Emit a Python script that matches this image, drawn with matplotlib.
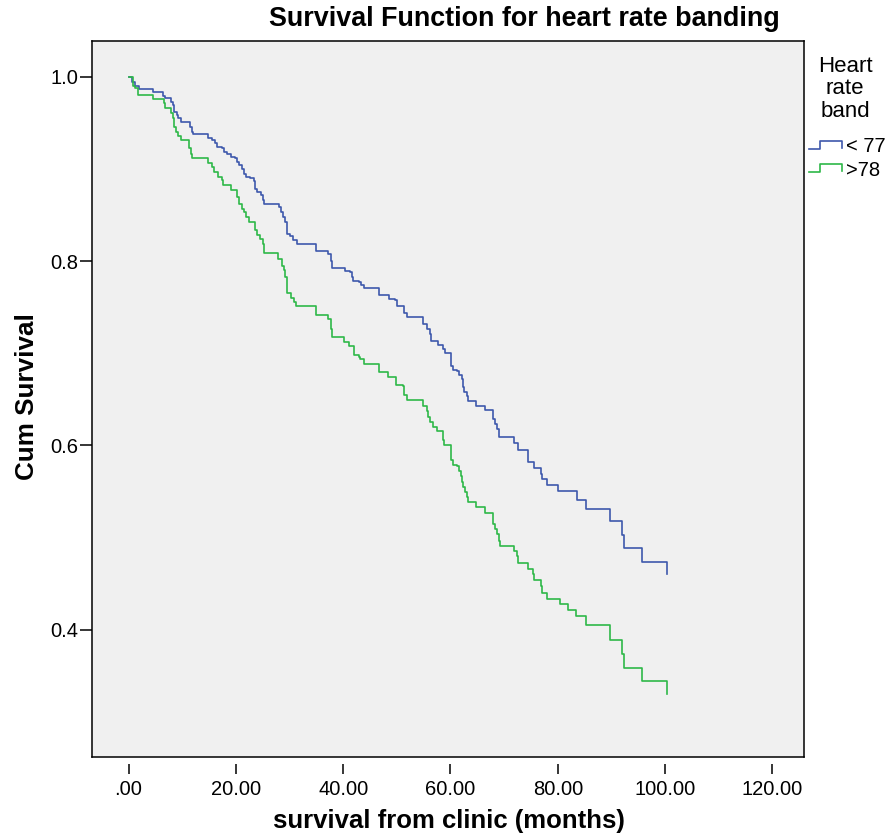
import matplotlib
matplotlib.use("Agg")
import matplotlib.pyplot as plt
from matplotlib.lines import Line2D
from matplotlib.ticker import FuncFormatter

plt.rcParams['font.family'] = ['Liberation Sans', 'DejaVu Sans']

# step times (months) and cum survival after each step
months_lt77 = [0, 0.65, 1.21, 2.01, 4.62, 6.49, 6.80, 7.83, 8.35, 8.54, 8.98,
               9.28, 9.73, 11.46, 11.78, 11.97, 14.87, 15.51, 16.12, 16.55, 17.37,
               17.80, 18.30, 19.05, 19.85, 20.17, 20.65, 21.10, 21.53, 21.90, 22.65,
               23.39, 23.58, 24.01, 24.64, 25.01, 25.26, 28.11, 28.37, 28.74, 29.17,
               29.49, 30.10, 30.72, 31.31, 34.95, 37.24, 37.69, 37.88, 40.35, 41.29,
               41.60, 41.90, 43.02, 43.28, 43.90, 46.75, 48.61, 49.67, 49.99, 51.35,
               51.86, 54.84, 55.58, 56.20, 56.33, 57.74, 58.68, 58.99, 60.11, 60.43,
               61.29, 61.66, 62.11, 62.29, 62.54, 63.04, 63.34, 64.77, 66.45, 67.88,
               68.31, 68.74, 69.11, 71.86, 72.51, 74.52, 75.58, 76.83, 77.02, 78.06,
               80.00, 83.65, 85.22, 89.75, 91.99, 92.41, 95.66, 100.32]
surv_lt77 = [1.0, 0.9942, 0.9902, 0.9866, 0.9837, 0.9793, 0.9765, 0.9728, 0.9692, 0.9620, 0.9584,
             0.9548, 0.9511, 0.9457, 0.9402, 0.9374, 0.9337, 0.9312, 0.9276, 0.9239, 0.9222,
             0.9185, 0.9167, 0.9130, 0.9120, 0.9076, 0.9040, 0.9004, 0.8950, 0.8913, 0.8896,
             0.8866, 0.8787, 0.8750, 0.8714, 0.8660, 0.8624, 0.8587, 0.8533, 0.8478, 0.8424,
             0.8298, 0.8268, 0.8230, 0.8182, 0.8109, 0.8073, 0.8000, 0.7928, 0.7891, 0.7880,
             0.7826, 0.7783, 0.7772, 0.7736, 0.7707, 0.7627, 0.7591, 0.7573, 0.7511, 0.7439,
             0.7391, 0.7320, 0.7258, 0.7211, 0.7130, 0.7084, 0.7048, 0.7000, 0.6866, 0.6820,
             0.6812, 0.6768, 0.6722, 0.6630, 0.6576, 0.6540, 0.6486, 0.6432, 0.6385, 0.6287,
             0.6233, 0.6178, 0.6087, 0.6022, 0.5953, 0.5815, 0.5754, 0.5689, 0.5635, 0.5573,
             0.5500, 0.5407, 0.5309, 0.5174, 0.5029, 0.4885, 0.4739, 0.4602]

months_gt78 = [0, 0.78, 0.89, 1.21, 1.83, 4.51, 6.62, 6.80, 7.87, 8.35, 8.48,
               8.85, 9.28, 9.73, 11.33, 11.59, 11.78, 14.87, 15.51, 15.94, 16.74,
               17.37, 17.56, 19.05, 20.17, 20.65, 21.10, 21.53, 21.90, 22.52, 23.58,
               24.01, 24.51, 25.01, 25.26, 27.92, 28.56, 28.98, 29.17, 29.49, 30.23,
               30.85, 31.22, 34.95, 37.24, 37.69, 37.88, 40.17, 41.16, 42.03, 43.02,
               43.15, 43.90, 46.69, 48.43, 49.86, 51.22, 51.35, 51.86, 54.84, 55.55,
               55.83, 56.20, 56.76, 57.50, 58.68, 58.81, 60.11, 60.43, 61.29, 61.66,
               61.92, 62.11, 62.41, 62.72, 63.15, 63.34, 64.77, 66.45, 67.88, 68.31,
               68.74, 69.11, 69.25, 71.86, 72.36, 72.54, 74.52, 75.45, 75.58, 76.83,
               77.02, 78.06, 80.43, 81.92, 83.41, 85.22, 89.75, 91.93, 92.41, 95.66,
               100.32]
surv_gt78 = [1.0, 0.9946, 0.9902, 0.9880, 0.9801, 0.9758, 0.9711, 0.9657, 0.9602, 0.9548, 0.9457,
             0.9402, 0.9359, 0.9312, 0.9222, 0.9167, 0.9113, 0.9059, 0.9022, 0.8967, 0.8913,
             0.8877, 0.8823, 0.8768, 0.8696, 0.8624, 0.8570, 0.8533, 0.8478, 0.8424, 0.8334,
             0.8279, 0.8236, 0.8189, 0.8091, 0.8026, 0.7942, 0.7899, 0.7826, 0.7652, 0.7602,
             0.7554, 0.7508, 0.7410, 0.7374, 0.7265, 0.7174, 0.7120, 0.7073, 0.6975, 0.6964,
             0.6932, 0.6885, 0.6793, 0.6739, 0.6660, 0.6649, 0.6551, 0.6493, 0.6432, 0.6377,
             0.6312, 0.6258, 0.6203, 0.6160, 0.6059, 0.6004, 0.5841, 0.5787, 0.5779, 0.5717,
             0.5671, 0.5598, 0.5543, 0.5497, 0.5435, 0.5380, 0.5326, 0.5265, 0.5146, 0.5091,
             0.5037, 0.4964, 0.4910, 0.4855, 0.4801, 0.4728, 0.4657, 0.4602, 0.4537, 0.4475,
             0.4402, 0.4330, 0.4279, 0.4214, 0.4149, 0.4048, 0.3891, 0.3739, 0.3587, 0.3442,
             0.3298]

band_labels = ['< 77', '>78']
band_colors = ['#3E58AC', '#2EB848']
x_ticks = [0, 20, 40, 60, 80, 100, 120]
y_ticks = [0.4, 0.6, 0.8, 1.0]

W, H = 889, 836


def px(x, y):
    # pixel position -> figure fraction
    return x / W, 1 - y / H


fig = plt.figure(figsize=(W / 100, H / 100), dpi=100)
ax = fig.add_axes([0.1035, 0.0945, 0.801, 0.8568])
ax.set_facecolor('#F0F0F0')

ax.step(months_lt77, surv_lt77, where='post', color=band_colors[0], lw=1.2)
ax.step(months_gt78, surv_gt78, where='post', color=band_colors[1], lw=1.2)

ax.set_xlim(-6.8, 125.9)
ax.set_ylim(0.2618, 1.0391)
ax.set_xticks(x_ticks)
ax.set_yticks(y_ticks)
ax.xaxis.set_major_formatter(FuncFormatter(lambda v, p: '.00' if v == 0 else f'{v:.2f}'))
ax.yaxis.set_major_formatter(FuncFormatter(lambda v, p: f'{v:.1f}'))

for s in ax.spines.values():
    s.set_linewidth(1.1)
ax.spines['bottom'].set_position(('outward', 5))
ax.spines['bottom'].set_visible(False)
ax.plot([0, 1], [0, 0], transform=ax.transAxes, color='black', lw=1.1, clip_on=False)

ax.tick_params(axis='x', length=7.5, width=1.1, pad=4, labelsize=14.5)
ax.tick_params(axis='y', length=8.6, width=1.1, pad=1, labelsize=14.5)

fig.text(*px(448.5, 821), 'survival from clinic (months)', ha='center', va='center',
         fontsize=18.5, fontweight='bold')
fig.text(*px(27, 397), 'Cum Survival', ha='center', va='center', rotation=90,
         fontsize=18.7, fontweight='bold')
fig.text(*px(524, 19), 'Survival Function for heart rate banding', ha='center', va='center',
         fontsize=19.4, fontweight='bold')

# legend
fig.text(*px(845, 89), 'Heart\nrate\nband', ha='center', va='center', fontsize=16, linespacing=1.12)
icon_x = [809, 820, 820, 842, 842]
for i, (lab, col) in enumerate(zip(band_labels, band_colors)):
    yb = 149 + i * 23
    icon_y = [yb, yb, yb - 8, yb - 8, yb - 1]
    pts = [px(a, b) for a, b in zip(icon_x, icon_y)]
    fig.add_artist(Line2D([p[0] for p in pts], [p[1] for p in pts], transform=fig.transFigure,
                          color=col, lw=1.2))
    fig.text(*px(846, yb - 2), lab, ha='left', va='center', fontsize=14.5)

fig.savefig('out.png', dpi=100)
